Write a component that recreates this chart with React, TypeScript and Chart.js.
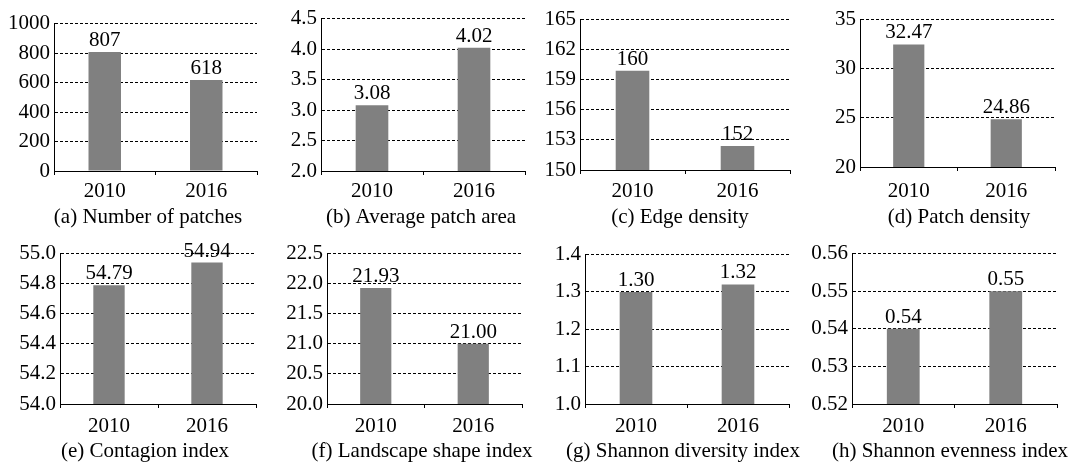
import React, { useEffect, useRef } from 'react';
import { Chart, registerables } from 'chart.js';

Chart.register(...registerables);

// ---- data ----
const years = ['2010', '2016'];
const numberOfPatches = [807, 618];
const averagePatchArea = [3.08, 4.02];
const edgeDensity = [159.9, 152.4];
const patchDensity = [32.47, 24.86];
const contagionIndex = [54.79, 54.94];
const landscapeShapeIndex = [21.93, 21.0];
const shannonDiversityIndex = [1.3, 1.32];
const shannonEvennessIndex = [0.54, 0.55];

const panelSeries = [
  numberOfPatches,
  averagePatchArea,
  edgeDensity,
  patchDensity,
  contagionIndex,
  landscapeShapeIndex,
  shannonDiversityIndex,
  shannonEvennessIndex,
];

const panelTitles = [
  '(a) Number of patches',
  '(b) Average patch area',
  '(c) Edge density',
  '(d) Patch density',
  '(e) Contagion index',
  '(f) Landscape shape index',
  '(g) Shannon diversity index',
  '(h) Shannon evenness index',
];

// y-axis tick settings
const axisMin = [0, 2.0, 150, 20, 54.0, 20.0, 1.0, 0.52];
const axisMax = [1000, 4.5, 165, 35, 55.0, 22.5, 1.4, 0.56];
const axisStep = [200, 0.5, 3, 5, 0.2, 0.5, 0.1, 0.01];
const tickDecimals = [0, 1, 0, 0, 1, 1, 1, 2];
const valueDecimals = [0, 2, 0, 2, 2, 2, 2, 2];

// ---- layout (pixels) ----
const layout = [
  { axisX: 54, top: 23, bottom: 171, right: 257, titleX: 148, row: 0 },
  { axisX: 321, top: 18, bottom: 171, right: 525, titleX: 421, row: 0 },
  { axisX: 580, top: 19, bottom: 170, right: 790, titleX: 680, row: 0 },
  { axisX: 860, top: 19, bottom: 167, right: 1055, titleX: 959, row: 0 },
  { axisX: 60, top: 253, bottom: 404, right: 256, titleX: 145, row: 1 },
  { axisX: 327, top: 253, bottom: 404, right: 522, titleX: 422, row: 1 },
  { axisX: 585, top: 254, bottom: 404, right: 789, titleX: 683, row: 1 },
  { axisX: 852, top: 253, bottom: 404, right: 1057, titleX: 950, row: 1 },
];
const yearLabelCenterY = [192, 427];
const titleCenterY = [217, 451];

const FONT_FAMILY = "'Liberation Serif', 'Times New Roman', serif";
const FONT_SIZE = 21;
const Y_AXIS_W = 52;
const PAD_TOP = 16;
const PAD_RIGHT = 30;
const X_AXIS_H = 66;
const TICK_LEN = 4;

function Panel({ idx }: { idx: number }) {
  const ref = useRef<HTMLCanvasElement | null>(null);
  const L = layout[idx];
  const canvasLeft = L.axisX - Y_AXIS_W;
  const canvasTop = L.top - PAD_TOP;
  const width = L.right - L.axisX + Y_AXIS_W + PAD_RIGHT;
  const height = PAD_TOP + (L.bottom - L.top) + X_AXIS_H;

  useEffect(() => {
    if (!ref.current) return;
    const font = { family: FONT_FAMILY, size: FONT_SIZE };
    const labelPad = Math.round(yearLabelCenterY[L.row] - L.bottom - TICK_LEN - FONT_SIZE * 0.6);

    const valueLabels = {
      id: 'valueLabels',
      afterDatasetsDraw(chart: any) {
        const ctx = chart.ctx;
        const meta = chart.getDatasetMeta(0);
        ctx.save();
        ctx.fillStyle = '#000';
        ctx.font = `${FONT_SIZE}px ${FONT_FAMILY}`;
        ctx.textAlign = 'center';
        ctx.textBaseline = 'alphabetic';
        meta.data.forEach((bar: any, i: number) => {
          const v = panelSeries[idx][i];
          ctx.fillText(v.toFixed(valueDecimals[idx]), bar.x, bar.y - 6);
        });
        ctx.restore();
      },
    };

    const panelTitle = {
      id: 'panelTitle',
      afterDraw(chart: any) {
        const ctx = chart.ctx;
        ctx.save();
        ctx.fillStyle = '#000';
        ctx.font = `${FONT_SIZE}px ${FONT_FAMILY}`;
        ctx.textAlign = 'center';
        ctx.textBaseline = 'middle';
        ctx.fillText(panelTitles[idx], L.titleX - canvasLeft, titleCenterY[L.row] - canvasTop);
        ctx.restore();
      },
    };

    const chart = new Chart(ref.current, {
      type: 'bar',
      data: {
        labels: years,
        datasets: [
          {
            data: panelSeries[idx],
            backgroundColor: '#808080',
            borderWidth: 0,
            barPercentage: 0.32,
            categoryPercentage: 1,
          },
        ],
      },
      options: {
        responsive: false,
        animation: false,
        layout: { padding: { top: PAD_TOP, left: 0, right: PAD_RIGHT, bottom: 0 } },
        plugins: {
          legend: { display: false },
          tooltip: { enabled: false },
          title: { display: false },
        },
        scales: {
          x: {
            offset: true,
            grid: {
              display: true,
              drawOnChartArea: false,
              drawTicks: true,
              tickLength: TICK_LEN,
              color: '#000',
              offset: true,
            },
            border: { display: true, color: '#000', width: 1 },
            ticks: { color: '#000', font, padding: labelPad, maxRotation: 0 },
            afterFit(scale: any) {
              scale.height = X_AXIS_H;
            },
          },
          y: {
            min: axisMin[idx],
            max: axisMax[idx],
            grid: { color: '#000', drawTicks: false, lineWidth: 1 },
            border: { display: true, color: '#000', width: 1, dash: [3, 2] },
            ticks: {
              stepSize: axisStep[idx],
              autoSkip: false,
              color: '#000',
              font,
              padding: 4,
              callback: (v: any) => Number(v).toFixed(tickDecimals[idx]),
            },
            afterFit(scale: any) {
              scale.width = Y_AXIS_W;
            },
          },
        },
      },
      plugins: [valueLabels, panelTitle],
    } as any);
    return () => chart.destroy();
  }, [idx]);

  return (
    <canvas
      ref={ref}
      width={width}
      height={height}
      style={{ position: 'absolute', left: canvasLeft, top: canvasTop, width, height }}
    />
  );
}

export default function App() {
  return (
    <div
      style={{
        position: 'absolute',
        left: 0,
        top: 0,
        width: 1071,
        height: 463,
        overflow: 'hidden',
        background: '#fff',
      }}
    >
      {layout.map((_, i) => (
        <Panel key={i} idx={i} />
      ))}
    </div>
  );
}
